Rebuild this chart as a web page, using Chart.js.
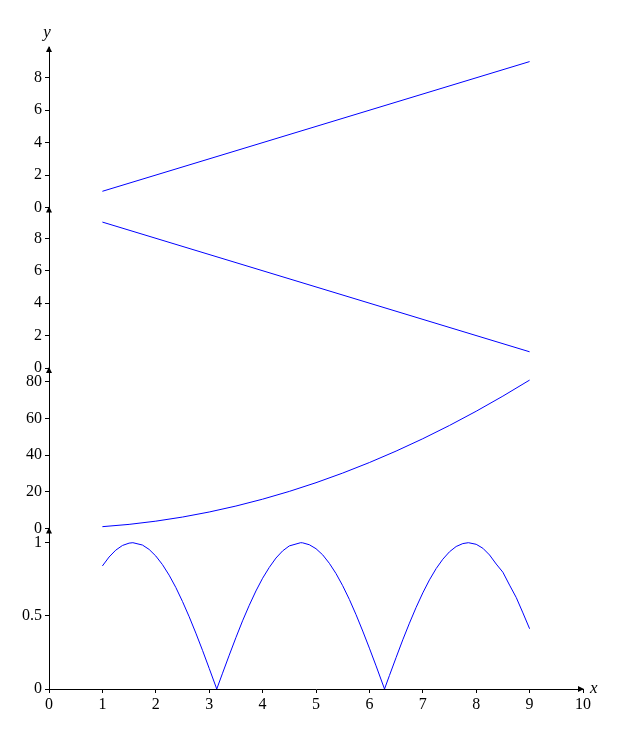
<!DOCTYPE html>
<html><head><meta charset="utf-8">
<script src="https://cdn.jsdelivr.net/npm/chart.js@4"></script>
<style>html,body{margin:0;padding:0;background:#fff}#w{width:630px;height:734px}</style>
</head><body><div id="w"><canvas id="c"></canvas></div>
<script>
const xTicks=[0,1,2,3,4,5,6,7,8,9,10];
const lineUpX=[1,9], lineUpY=[1,9];
const lineDownX=[1,9], lineDownY=[9,1];
const sqX=[1,1.5,2,2.5,3,3.5,4,4.5,5,5.5,6,6.5,7,7.5,8,8.5,9];
const sqY=[1,2.25,4,6.25,9,12.25,16,20.25,25,30.25,36,42.25,49,56.25,64,72.25,81];
const sinX=[1,1.125,1.25,1.375,1.5,1.5708,1.75,1.875,2,2.125,2.25,2.375,2.5,2.625,2.75,2.875,3,3.1416,3.25,3.375,3.5,3.625,3.75,3.875,4,4.125,4.25,4.375,4.5,4.7124,4.75,4.875,5,5.125,5.25,5.375,5.5,5.625,5.75,5.875,6,6.125,6.2832,6.375,6.5,6.625,6.75,6.875,7,7.125,7.25,7.375,7.5,7.625,7.75,7.854,8,8.125,8.25,8.375,8.5,8.625,8.75,8.875,9];
const sinY=[0.841,0.902,0.949,0.981,0.997,1,0.984,0.954,0.909,0.850,0.778,0.694,0.598,0.494,0.382,0.264,0.141,0,0.108,0.231,0.351,0.466,0.572,0.670,0.757,0.831,0.895,0.944,0.978,1,0.999,0.986,0.959,0.917,0.859,0.789,0.706,0.612,0.508,0.396,0.279,0.158,0,0.092,0.215,0.336,0.450,0.558,0.657,0.746,0.823,0.887,0.938,0.974,0.994,1,0.989,0.962,0.916,0.854,0.798,0.710,0.625,0.520,0.412];
const yTicks1=[0,2,4,6,8], yTicks2=[0,2,4,6,8], yTicks3=[0,20,40,60,80], yTicks4=[0,0.5,1];
const pts=(xs,ys)=>xs.map((x,i)=>({x,y:ys[i]}));
const F={family:'Liberation Serif',size:16};
function yScale(min,max,ticks){
  return {type:'linear',position:'left',stack:'s',stackWeight:1,offset:false,min,max,
    afterBuildTicks:s=>{s.ticks=ticks.map(v=>({value:v}));},
    afterFit:s=>{s.width=49;},
    border:{color:'#000',width:1},
    grid:{drawOnChartArea:false,tickLength:4,color:'#000'},
    ticks:{color:'#000',font:F,padding:3,autoSkip:false,callback:v=>String(v)}};
}
const arrows={id:'arrows',afterDraw(ch){
  const c=ch.ctx,a=ch.chartArea;c.save();c.fillStyle='#000';
  ['y1','y2','y3','y4'].forEach(id=>{const s=ch.scales[id];const x=a.left,t=s.top;
    c.beginPath();c.moveTo(x,t-1);c.lineTo(x-3,t+5);c.lineTo(x+3,t+5);c.closePath();c.fill();});
  const y=ch.scales.x.top;
  c.beginPath();c.moveTo(a.right+1,y);c.lineTo(a.right-5,y-3);c.lineTo(a.right-5,y+3);c.closePath();c.fill();
  c.font='italic 17px Liberation Serif';c.textBaseline='middle';
  c.textAlign='left';c.fillText('x',a.right+7,y);
  const top=Math.min(...['y1','y2','y3','y4'].map(id=>ch.scales[id].top));
  c.textAlign='center';c.fillText('y',a.left-2,top-14);
  c.restore();}};
const ds=(d,id)=>({data:d,yAxisID:id,borderColor:'#0000ff',borderWidth:1,pointRadius:0,fill:false,tension:0});
new Chart(document.getElementById('c'),{type:'line',
 data:{datasets:[ds(pts(lineUpX,lineUpY),'y1'),ds(pts(lineDownX,lineDownY),'y2'),ds(pts(sqX,sqY),'y3'),ds(pts(sinX,sinY),'y4')]},
 options:{responsive:true,maintainAspectRatio:false,animation:false,
  layout:{padding:{left:0,right:47,top:47,bottom:0}},
  plugins:{legend:{display:false},tooltip:{enabled:false}},
  scales:{
   x:{type:'linear',min:0,max:10,afterBuildTicks:s=>{s.ticks=xTicks.map(v=>({value:v}));},
      afterFit:s=>{s.height=45;},border:{color:'#000'},grid:{drawOnChartArea:false,tickLength:4,color:'#000'},
      ticks:{color:'#000',font:F,padding:2,maxRotation:0,autoSkip:false}},
   y4:yScale(0,1.097,yTicks4),y3:yScale(0,87.6,yTicks3),y2:yScale(0,9.9,yTicks2),y1:yScale(0,9.9,yTicks1)
  }},
 plugins:[arrows]});
</script></body></html>
